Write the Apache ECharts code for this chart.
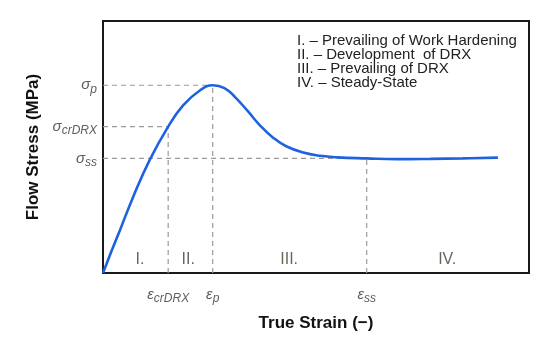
<!DOCTYPE html>
<html><head><meta charset="utf-8">
<script src="https://cdn.jsdelivr.net/npm/echarts@6/dist/echarts.min.js"></script>
<style>html,body{margin:0;padding:0;background:#fff}#c{width:550px;height:344px}</style>
</head><body><div id="c"></div>
<script>
// Flow curve (true strain, flow stress) in relative units 0-100
const strain = [0,2,4,7.1,11,15.3,18.8,22.8,25.75,28.5,31,34,37,40,43,47,51,55,61.9,68.9,76.8,84.5,92.7];
const stress = [0,8.7,17.1,30.3,45.0,58.1,66.5,72.5,74.5,73.4,69.8,64.2,58.3,53.6,50.3,47.8,46.5,45.9,45.5,45.2,45.3,45.5,45.8];
// characteristic points
const epsCr = 15.3, sigCr = 58.1;
const epsP = 25.75, sigP = 74.5;
const epsSS = 61.9, sigSS = 45.5;
// stage labels
const stageNames = ['I.', 'II.', 'III.', 'IV.'];
const stageX = [8.7, 20.0, 43.7, 80.8];
const stageY = [5.2, 5.2, 5.2, 5.2];
const legendLines = ['I. \u2013 Prevailing of Work Hardening','II. \u2013 Development  of DRX','III. \u2013 Prevailing of DRX','IV. \u2013 Steady-State'];
const sigmaLabels = [['p', sigP], ['crDRX', sigCr], ['ss', sigSS]];
const epsLabels = [['crDRX', epsCr], ['p', epsP], ['ss', epsSS]];

const chart = echarts.init(document.getElementById('c'), null, {renderer:'canvas'});
const dash = {color:'#9a9a9a', width:1.2, type:[5,4]};
function guide(pts){return {type:'line', data:pts, symbol:'none', lineStyle:dash, silent:true, z:1, animation:false};}
const rich = {
  g:{fontFamily:'Liberation Sans', fontStyle:'italic', fontSize:15, color:'#333'},
  s:{fontFamily:'Liberation Sans', fontStyle:'italic', fontSize:12, color:'#333', padding:[9,0,0,0]}
};
const sym = {epsilon:'\u03b5', sigma:'\u03c3'};
chart.setOption({
  animation:false,
  grid:{left:103, right:21, top:21, bottom:71, show:true, borderColor:'#1a1a1a', borderWidth:2, backgroundColor:'transparent'},
  xAxis:{type:'value', min:0, max:100, axisLine:{show:false}, axisTick:{show:false}, axisLabel:{show:false}, splitLine:{show:false},
    name:'True Strain (\u2212)', nameLocation:'middle', nameGap:42,
    nameTextStyle:{fontFamily:'Liberation Sans', fontWeight:'bold', fontSize:17, color:'#111'}},
  yAxis:{type:'value', min:0, max:100, axisLine:{show:false}, axisTick:{show:false}, axisLabel:{show:false}, splitLine:{show:false},
    name:'Flow Stress (MPa)', nameLocation:'middle', nameGap:61, nameRotate:90,
    nameTextStyle:{fontFamily:'Liberation Sans', fontWeight:'bold', fontSize:17, color:'#111'}},
  graphic:[{type:'text', left:297, top:33, style:{text:legendLines.join('\n'), font:'15px "Liberation Sans"', fill:'#222', lineHeight:14.2}}],
  series:[
    guide([[0,sigP],[epsP,sigP]]),
    guide([[0,sigCr],[epsCr,sigCr]]),
    guide([[0,sigSS],[epsSS,sigSS]]),
    guide([[epsCr,0],[epsCr,sigCr]]),
    guide([[epsP,0],[epsP,sigP]]),
    guide([[epsSS,0],[epsSS,sigSS]]),
    {type:'line', data:strain.map((x,i)=>[x,stress[i]]), symbol:'none', smooth:0.45, z:3,
      lineStyle:{color:'#1f62e0', width:2.6}},
    {type:'scatter', data:stageNames.map((n,i)=>({value:[stageX[i],stageY[i]], name:n})), symbolSize:0, z:4,
      label:{show:true, position:'inside', formatter:p=>p.name, fontFamily:'Liberation Sans', fontSize:16, color:'#3f3f30'}},
    {type:'scatter', data:sigmaLabels.map(d=>({value:[0,d[1]], name:d[0]})), symbolSize:0, z:4,
      label:{show:true, position:'left', distance:6, formatter:p=>'{g|'+sym.sigma+'}{s|'+p.name+'}', rich:rich}},
    {type:'scatter', data:epsLabels.map(d=>({value:[d[1],0], name:d[0]})), symbolSize:0, z:4,
      label:{show:true, position:'bottom', distance:11, formatter:p=>'{g|'+sym.epsilon+'}{s|'+p.name+'}', rich:rich}}
  ]
});
</script></body></html>
